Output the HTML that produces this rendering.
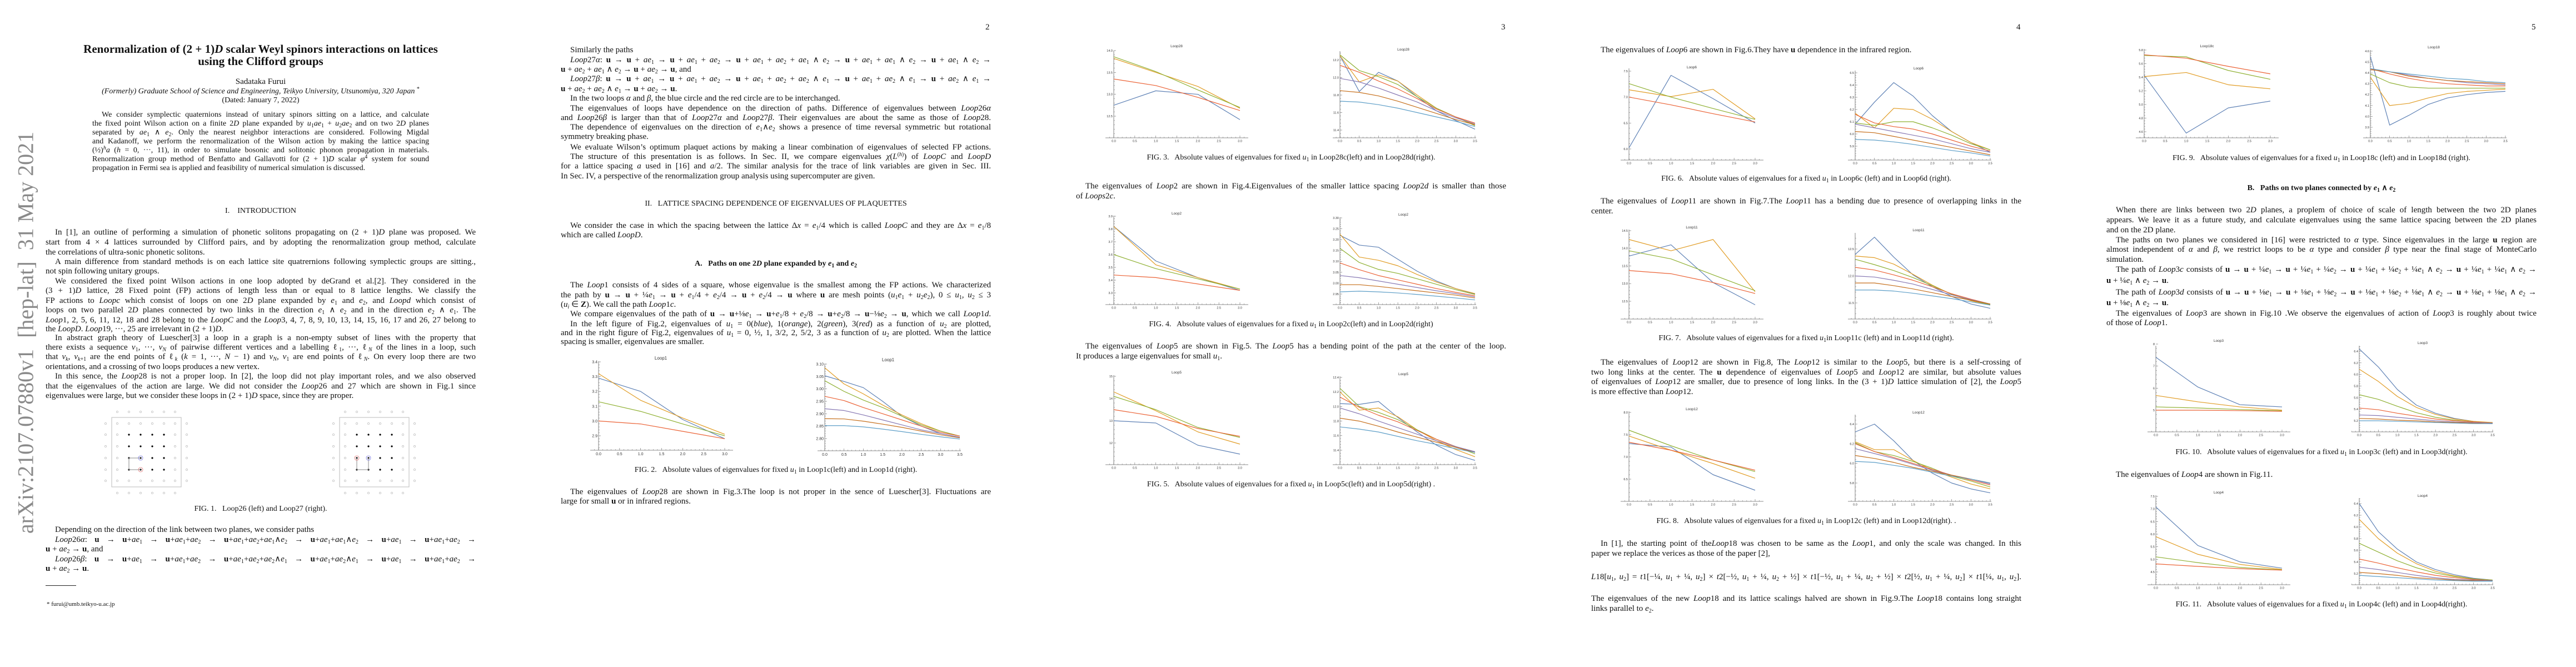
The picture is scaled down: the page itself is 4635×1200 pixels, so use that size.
<!DOCTYPE html>
<html><head><meta charset="utf-8">
<style>
html,body{margin:0;padding:0;background:#fff;}
#root{position:relative;width:4635px;height:1200px;overflow:hidden;background:#fff;font-family:"Liberation Serif",serif;color:#111;}
.ln{position:absolute;width:774px;white-space:nowrap;text-align:justify;text-align-last:justify;font-size:15px;line-height:18px;height:18px;}
.ln.e{text-align-last:left;}
.ln.i{text-indent:17px;}
.cap{position:absolute;width:774px;text-align:center;font-size:14px;line-height:18px;white-space:nowrap;}
.hd{position:absolute;width:774px;text-align:center;font-size:14px;font-weight:bold;line-height:18px;white-space:nowrap;}
.pn{position:absolute;font-size:15px;}
sub{font-size:10px;line-height:0;vertical-align:-3px;}
sup{font-size:10px;line-height:0;vertical-align:5px;}
i{font-style:italic;}
#stamp{position:absolute;left:-319px;top:575px;width:730px;text-align:center;font-size:40px;color:#8a8a8a;transform:rotate(-90deg);white-space:nowrap;}
svg{position:absolute;left:0;top:0;}
</style></head>
<body>
<div id="root">

<div id="stamp">arXiv:2107.07880v1&nbsp; [hep-lat]&nbsp; 31 May 2021</div>

<!-- PAGE 1 -->
<div class="cap" style="left:82px;top:77px;font-size:21px;line-height:22px;font-weight:bold;">Renormalization of (2 + 1)<i>D</i> scalar Weyl spinors interactions on lattices</div>
<div class="cap" style="left:82px;top:99px;font-size:21px;line-height:22px;font-weight:bold;">using the Clifford groups</div>
<div class="cap" style="left:82px;top:138px;font-size:15px;">Sadataka Furui</div>
<div class="cap" style="left:82px;top:156px;font-size:14px;"><i>(Formerly) Graduate School of Science and Engineering, Teikyo University, Utsunomiya, 320 Japan</i> <sup>*</sup></div>
<div class="cap" style="left:82px;top:172px;font-size:14px;">(Dated: January 7, 2022)</div>

<div>
<div class="ln i" style="left:166px;width:606px;top:198px;font-size:14px;">We consider symplectic quaternions instead of unitary spinors sitting on a lattice, and calculate</div>
<div class="ln" style="left:166px;width:606px;top:214px;font-size:14px;">the fixed point Wilson action on a finite 2<i>D</i> plane expanded by <i>u</i><sub>1</sub><i>ae</i><sub>1</sub> + <i>u</i><sub>2</sub><i>ae</i><sub>2</sub> and on two 2<i>D</i> planes</div>
<div class="ln" style="left:166px;width:606px;top:230px;font-size:14px;">separated by <i>ae</i><sub>1</sub> ∧ <i>e</i><sub>2</sub>. Only the nearest neighbor interactions are considered. Following Migdal</div>
<div class="ln" style="left:166px;width:606px;top:246px;font-size:14px;">and Kadanoff, we perform the renormalization of the Wilson action by making the lattice spacing</div>
<div class="ln" style="left:166px;width:606px;top:262px;font-size:14px;">(½)<sup><i>h</i></sup><i>a</i> (<i>h</i> = 0, ···, 11), in order to simulate bosonic and solitonic phonon propagation in materials.</div>
<div class="ln" style="left:166px;width:606px;top:278px;font-size:14px;">Renormalization group method of Benfatto and Gallavotti for (2 + 1)<i>D</i> scalar <i>φ</i><sup>4</sup> system for sound</div>
<div class="ln e" style="left:166px;width:606px;top:294px;font-size:14px;">propagation in Fermi sea is applied and feasibility of numerical simulation is discussed.</div>
</div>

<div class="hd" style="left:82px;top:371px;font-weight:normal;">I.&nbsp;&nbsp;&nbsp; INTRODUCTION</div>

<div>
<div class="ln i" style="left:82px;top:409px;">In [1], an outline of performing a simulation of phonetic solitons propagating on (2 + 1)<i>D</i> plane was proposed. We</div>
<div class="ln" style="left:82px;top:427px;">start from 4 × 4 lattices surrounded by Clifford pairs, and by adopting the renormalization group method, calculate</div>
<div class="ln e" style="left:82px;top:445px;">the correlations of ultra-sonic phonetic solitons.</div>
<div class="ln i" style="left:82px;top:462px;">A main difference from standard methods is on each lattice site quatrernions following symplectic groups are sitting.,</div>
<div class="ln e" style="left:82px;top:479px;">not spin following unitary groups.</div>
<div class="ln i" style="left:82px;top:497px;">We considered the fixed point Wilson actions in one loop adopted by deGrand et al.[2]. They considered in the</div>
<div class="ln" style="left:82px;top:514px;">(3 + 1)<i>D</i> lattice, 28 Fixed point (FP) actions of length less than or equal to 8 lattice lengths. We classify the</div>
<div class="ln" style="left:82px;top:532px;">FP actions to <i>Loopc</i> which consist of loops on one 2<i>D</i> plane expanded by <i>e</i><sub>1</sub> and <i>e</i><sub>2</sub>, and <i>Loopd</i> which consist of</div>
<div class="ln" style="left:82px;top:549px;">loops on two parallel 2<i>D</i> planes connected by two links in the direction <i>e</i><sub>1</sub> ∧ <i>e</i><sub>2</sub> and in the direction <i>e</i><sub>2</sub> ∧ <i>e</i><sub>1</sub>. The</div>
<div class="ln" style="left:82px;top:567px;"><i>Loop</i>1, 2, 5, 6, 11, 12, 18 and 28 belong to the <i>LoopC</i> and the <i>Loop</i>3, 4, 7, 8, 9, 10, 13, 14, 15, 16, 17 and 26, 27 belong to</div>
<div class="ln e" style="left:82px;top:583px;">the <i>LoopD</i>. <i>Loop</i>19, ···, 25 are irrelevant in (2 + 1)<i>D</i>.</div>
<div class="ln i" style="left:82px;top:599px;">In abstract graph theory of Luescher[3] a loop in a graph is a non-empty subset of lines with the property that</div>
<div class="ln" style="left:82px;top:616px;">there exists a sequence <i>v</i><sub>1</sub>, ···, <i>v<sub>N</sub></i> of pairwise different vertices and a labelling ℓ<sub>1</sub>, ···, ℓ<sub><i>N</i></sub> of the lines in a loop, such</div>
<div class="ln" style="left:82px;top:633px;">that <i>v<sub>k</sub></i>, <i>v</i><sub><i>k</i>+1</sub> are the end points of ℓ<sub><i>k</i></sub> (<i>k</i> = 1, ···, <i>N</i> − 1) and <i>v<sub>N</sub></i>, <i>v</i><sub>1</sub> are end points of ℓ<sub><i>N</i></sub>. On every loop there are two</div>
<div class="ln e" style="left:82px;top:651px;">orientations, and a crossing of two loops produces a new vertex.</div>
<div class="ln i" style="left:82px;top:668px;">In this sence, the <i>Loop</i>28 is not a proper loop. In [2], the loop did not play important roles, and we also observed</div>
<div class="ln" style="left:82px;top:686px;">that the eigenvalues of the action are large. We did not consider the <i>Loop</i>26 and 27 which are shown in Fig.1 since</div>
<div class="ln e" style="left:82px;top:703px;">eigenvalues were large, but we consider these loops in (2 + 1)<i>D</i> space, since they are proper.</div>
</div>

<div class="cap" style="left:82px;top:907px;">FIG. 1.&nbsp;&nbsp; Loop26 (left) and Loop27 (right).</div>

<div>
<div class="ln i e" style="left:82px;top:944px;">Depending on the direction of the link between two planes, we consider paths</div>
<div class="ln i" style="left:82px;top:962px;"><i>Loop</i>26<i>α</i>: <b>u</b> → <b>u</b>+<i>ae</i><sub>1</sub> → <b>u</b>+<i>ae</i><sub>1</sub>+<i>ae</i><sub>2</sub> → <b>u</b>+<i>ae</i><sub>1</sub>+<i>ae</i><sub>2</sub>+<i>ae</i><sub>1</sub>∧<i>e</i><sub>2</sub> → <b>u</b>+<i>ae</i><sub>1</sub>+<i>ae</i><sub>1</sub>∧<i>e</i><sub>2</sub> → <b>u</b>+<i>ae</i><sub>1</sub> → <b>u</b>+<i>ae</i><sub>1</sub>+<i>ae</i><sub>2</sub> →</div>
<div class="ln e" style="left:82px;top:979px;"><b>u</b> + <i>ae</i><sub>2</sub> → <b>u</b>, and</div>
<div class="ln i" style="left:82px;top:997px;"><i>Loop</i>26<i>β</i>: <b>u</b> → <b>u</b>+<i>ae</i><sub>1</sub> → <b>u</b>+<i>ae</i><sub>1</sub>+<i>ae</i><sub>2</sub> → <b>u</b>+<i>ae</i><sub>1</sub>+<i>ae</i><sub>2</sub>+<i>ae</i><sub>2</sub>∧<i>e</i><sub>1</sub> → <b>u</b>+<i>ae</i><sub>1</sub>+<i>ae</i><sub>2</sub>∧<i>e</i><sub>1</sub> → <b>u</b>+<i>ae</i><sub>1</sub> → <b>u</b>+<i>ae</i><sub>1</sub>+<i>ae</i><sub>2</sub> →</div>
<div class="ln e" style="left:82px;top:1014px;"><b>u</b> + <i>ae</i><sub>2</sub> → <b>u</b>.</div>
</div>
<div style="position:absolute;left:82px;top:1053px;width:55px;height:1px;background:#222;"></div>
<div style="position:absolute;left:84px;top:1081px;font-size:11px;">* furui@umb.teikyo-u.ac.jp</div>

<!-- PAGE 2 -->
<div class="pn" style="left:1773px;top:41px;">2</div>
<div>
<div class="ln i e" style="left:1009px;top:81px;">Similarly the paths</div>
<div class="ln i" style="left:1009px;top:99px;"><i>Loop</i>27<i>α</i>: <b>u</b> → <b>u</b> + <i>ae</i><sub>1</sub> → <b>u</b> + <i>ae</i><sub>1</sub> + <i>ae</i><sub>2</sub> → <b>u</b> + <i>ae</i><sub>1</sub> + <i>ae</i><sub>2</sub> + <i>ae</i><sub>1</sub> ∧ <i>e</i><sub>2</sub> → <b>u</b> + <i>ae</i><sub>1</sub> + <i>ae</i><sub>1</sub> ∧ <i>e</i><sub>2</sub> → <b>u</b> + <i>ae</i><sub>1</sub> ∧ <i>e</i><sub>2</sub> →</div>
<div class="ln e" style="left:1009px;top:116px;"><b>u</b> + <i>ae</i><sub>2</sub> + <i>ae</i><sub>1</sub> ∧ <i>e</i><sub>2</sub> → <b>u</b> + <i>ae</i><sub>2</sub> → <b>u</b>, and</div>
<div class="ln i" style="left:1009px;top:133px;"><i>Loop</i>27<i>β</i>: <b>u</b> → <b>u</b> + <i>ae</i><sub>1</sub> → <b>u</b> + <i>ae</i><sub>1</sub> + <i>ae</i><sub>2</sub> → <b>u</b> + <i>ae</i><sub>1</sub> + <i>ae</i><sub>2</sub> + <i>ae</i><sub>2</sub> ∧ <i>e</i><sub>1</sub> → <b>u</b> + <i>ae</i><sub>1</sub> + <i>ae</i><sub>2</sub> ∧ <i>e</i><sub>1</sub> → <b>u</b> + <i>ae</i><sub>2</sub> ∧ <i>e</i><sub>1</sub> →</div>
<div class="ln e" style="left:1009px;top:151px;"><b>u</b> + <i>ae</i><sub>2</sub> + <i>ae</i><sub>2</sub> ∧ <i>e</i><sub>1</sub> → <b>u</b> + <i>ae</i><sub>2</sub> → <b>u</b>.</div>
<div class="ln i e" style="left:1009px;top:168px;">In the two loops <i>α</i> and <i>β</i>, the blue circle and the red circle are to be interchanged.</div>
<div class="ln i" style="left:1009px;top:186px;">The eigenvalues of loops have dependence on the direction of paths. Difference of eigenvalues between <i>Loop</i>26<i>α</i></div>
<div class="ln" style="left:1009px;top:203px;">and <i>Loop</i>26<i>β</i> is larger than that of <i>Loop</i>27<i>α</i> and <i>Loop</i>27<i>β</i>. Their eigenvalues are about the same as those of <i>Loop</i>28.</div>
<div class="ln i" style="left:1009px;top:220px;">The dependence of eigenvalues on the direction of <i>e</i><sub>1</sub>∧<i>e</i><sub>2</sub> shows a presence of time reversal symmetric but rotational</div>
<div class="ln e" style="left:1009px;top:237px;">symmetry breaking phase.</div>
<div class="ln i" style="left:1009px;top:256px;">We evaluate Wilson’s optimum plaquet actions by making a linear combination of eigenvalues of selected FP actions.</div>
<div class="ln i" style="left:1009px;top:273px;">The structure of this presentation is as follows. In Sec. II, we compare eigenvalues <i>χ</i>(<i>L</i><sup>(<i>h</i>)</sup>) of <i>LoopC</i> and <i>LoopD</i></div>
<div class="ln" style="left:1009px;top:290px;">for a lattice spacing <i>a</i> used in [16] and <i>a</i>/2. The similar analysis for the trace of link variables are given in Sec. III.</div>
<div class="ln e" style="left:1009px;top:308px;">In Sec. IV, a perspective of the renormalization group analysis using supercomputer are given.</div>
</div>
<div class="hd" style="left:1009px;top:358px;font-weight:normal;">II.&nbsp;&nbsp; LATTICE SPACING DEPENDENCE OF EIGENVALUES OF PLAQUETTES</div>
<div>
<div class="ln i" style="left:1009px;top:397px;">We consider the case in which the spacing between the lattice Δ<i>x</i> = <i>e</i><sub>1</sub>/4 which is called <i>LoopC</i> and they are Δ<i>x</i> = <i>e</i><sub>1</sub>/8</div>
<div class="ln e" style="left:1009px;top:414px;">which are called <i>LoopD</i>.</div>
</div>
<div class="hd" style="left:1009px;top:466px;">A.&nbsp;&nbsp; Paths on one 2<i>D</i> plane expanded by <i>e</i><sub>1</sub> and <i>e</i><sub>2</sub></div>
<div>
<div class="ln i" style="left:1009px;top:504px;">The <i>Loop</i>1 consists of 4 sides of a square, whose eigenvalue is the smallest among the FP actions. We characterized</div>
<div class="ln" style="left:1009px;top:522px;">the path by <b>u</b> → <b>u</b> + ¼<i>e</i><sub>1</sub> → <b>u</b> + <i>e</i><sub>1</sub>/4 + <i>e</i><sub>2</sub>/4 → <b>u</b> + <i>e</i><sub>2</sub>/4 → <b>u</b> where <b>u</b> are mesh points (<i>u</i><sub>1</sub><i>e</i><sub>1</sub> + <i>u</i><sub>2</sub><i>e</i><sub>2</sub>), 0 ≤ <i>u</i><sub>1</sub>, <i>u</i><sub>2</sub> ≤ 3</div>
<div class="ln e" style="left:1009px;top:539px;">(<i>u<sub>i</sub></i> ∈ <b>Z</b>). We call the path <i>Loop</i>1<i>c</i>.</div>
<div class="ln i" style="left:1009px;top:556px;">We compare eigenvalues of the path of <b>u</b> → <b>u</b>+⅛<i>e</i><sub>1</sub> → <b>u</b>+<i>e</i><sub>1</sub>/8 + <i>e</i><sub>2</sub>/8 → <b>u</b>+<i>e</i><sub>2</sub>/8 → <b>u</b>−⅛<i>e</i><sub>2</sub> → <b>u</b>, which we call <i>Loop</i>1<i>d</i>.</div>
<div class="ln i" style="left:1009px;top:574px;">In the left figure of Fig.2, eigenvalues of <i>u</i><sub>1</sub> = 0(<i>blue</i>), 1(<i>orange</i>), 2(<i>green</i>), 3(<i>red</i>) as a function of <i>u</i><sub>2</sub> are plotted,</div>
<div class="ln" style="left:1009px;top:590px;">and in the right figure of Fig.2, eigenvalues of <i>u</i><sub>1</sub> = 0, ½, 1, 3/2, 2, 5/2, 3 as a function of <i>u</i><sub>2</sub> are plotted. When the lattice</div>
<div class="ln e" style="left:1009px;top:606px;">spacing is smaller, eigenvalues are smaller.</div>
</div>
<div class="cap" style="left:1009px;top:837px;">FIG. 2.&nbsp;&nbsp; Absolute values of eigenvalues for fixed <i>u</i><sub>1</sub> in Loop1c(left) and in Loop1d (right).</div>
<div>
<div class="ln i" style="left:1009px;top:876px;">The eigenvalues of <i>Loop</i>28 are shown in Fig.3.The loop is not proper in the sence of Luescher[3]. Fluctuations are</div>
<div class="ln e" style="left:1009px;top:893px;">large for small <b>u</b> or in infrared regions.</div>
</div>

<!-- PAGE 3 -->
<div class="pn" style="left:2701px;top:41px;">3</div>
<div class="cap" style="left:1936px;top:275px;">FIG. 3.&nbsp;&nbsp; Absolute values of eigenvalues for fixed <i>u</i><sub>1</sub> in Loop28c(left) and in Loop28d(right).</div>
<div>
<div class="ln i" style="left:1936px;top:326px;">The eigenvalues of <i>Loop</i>2 are shown in Fig.4.Eigenvalues of the smaller lattice spacing <i>Loop</i>2<i>d</i> is smaller than those</div>
<div class="ln e" style="left:1936px;top:344px;">of <i>Loops</i>2<i>c</i>.</div>
</div>
<div class="cap" style="left:1936px;top:575px;">FIG. 4.&nbsp;&nbsp; Absolute values of eigenvalues for a fixed <i>u</i><sub>1</sub> in Loop2c(left) and in Loop2d(right)</div>
<div>
<div class="ln i" style="left:1936px;top:614px;">The eigenvalues of <i>Loop</i>5 are shown in Fig.5. The <i>Loop</i>5 has a bending point of the path at the center of the loop.</div>
<div class="ln e" style="left:1936px;top:632px;">It produces a large eigenvalues for small <i>u</i><sub>1</sub>.</div>
</div>
<div class="cap" style="left:1936px;top:863px;">FIG. 5.&nbsp;&nbsp; Absolute values of eigenvalues for a fixed <i>u</i><sub>1</sub> in Loop5c(left) and in Loop5d(right) .</div>

<!-- PAGE 4 -->
<div class="pn" style="left:3628px;top:41px;">4</div>
<div class="ln i e" style="left:2863px;top:81px;">The eigenvalues of <i>Loop</i>6 are shown in Fig.6.They have <b>u</b> dependence in the infrared region.</div>
<div class="cap" style="left:2863px;top:313px;">FIG. 6.&nbsp;&nbsp; Absolute values of eigenvalues for a fixed <i>u</i><sub>1</sub> in Loop6c (left) and in Loop6d (right).</div>
<div>
<div class="ln i" style="left:2863px;top:353px;">The eigenvalues of <i>Loop</i>11 are shown in Fig.7.The <i>Loop</i>11 has a bending due to presence of overlapping links in the</div>
<div class="ln e" style="left:2863px;top:371px;">center.</div>
</div>
<div class="cap" style="left:2863px;top:600px;">FIG. 7.&nbsp;&nbsp; Absolute values of eigenvalues for a fixed <i>u</i><sub>1</sub>in Loop11c (left) and in Loop11d (right).</div>
<div>
<div class="ln i" style="left:2863px;top:643px;">The eigenvalues of <i>Loop</i>12 are shown in Fig.8, The <i>Loop</i>12 is similar to the <i>Loop</i>5, but there is a self-crossing of</div>
<div class="ln" style="left:2863px;top:661px;">two long links at the center. The <b>u</b> dependence of eigenvalues of <i>Loop</i>5 and <i>Loop</i>12 are similar, but absolute values</div>
<div class="ln" style="left:2863px;top:678px;">of eigenvalues of <i>Loop</i>12 are smaller, due to presence of long links. In the (3 + 1)<i>D</i> lattice simulation of [2], the <i>Loop</i>5</div>
<div class="ln e" style="left:2863px;top:696px;">is more effective than <i>Loop</i>12.</div>
</div>
<div class="cap" style="left:2863px;top:929px;">FIG. 8.&nbsp;&nbsp; Absolute values of eigenvalues for a fixed <i>u</i><sub>1</sub> in Loop12c (left) and in Loop12d(right). .</div>
<div>
<div class="ln i" style="left:2863px;top:969px;">In [1], the starting point of the<i>Loop</i>18 was chosen to be same as the <i>Loop</i>1, and only the scale was changed. In this</div>
<div class="ln e" style="left:2863px;top:987px;">paper we replace the verices as those of the paper [2],</div>
<div class="ln" style="left:2863px;top:1029px;"><i>L</i>18[<i>u</i><sub>1</sub>, <i>u</i><sub>2</sub>] = <i>t</i>1[−¼, <i>u</i><sub>1</sub> + ¼, <i>u</i><sub>2</sub>] × <i>t</i>2[−½, <i>u</i><sub>1</sub> + ¼, <i>u</i><sub>2</sub> + ½] × <i>t</i>1[−½, <i>u</i><sub>1</sub> + ¼, <i>u</i><sub>2</sub> + ½] × <i>t</i>2[½, <i>u</i><sub>1</sub> + ¼, <i>u</i><sub>2</sub>] × <i>t</i>1[¼, <i>u</i><sub>1</sub>, <i>u</i><sub>2</sub>].</div>
<div class="ln" style="left:2863px;top:1068px;">The eigenvalues of the new <i>Loop</i>18 and its lattice scalings halved are shown in Fig.9.The <i>Loop</i>18 contains long straight</div>
<div class="ln e" style="left:2863px;top:1086px;">links parallel to <i>e</i><sub>2</sub>.</div>
</div>

<!-- PAGE 5 -->
<div class="pn" style="left:4555px;top:41px;">5</div>
<div class="cap" style="left:3790px;top:276px;">FIG. 9.&nbsp;&nbsp; Absolute values of eigenvalues for a fixed <i>u</i><sub>1</sub> in Loop18c (left) and in Loop18d (right).</div>
<div class="hd" style="left:3790px;top:330px;">B.&nbsp;&nbsp; Paths on two planes connected by <i>e</i><sub>1</sub> ∧ <i>e</i><sub>2</sub></div>
<div>
<div class="ln i" style="left:3790px;top:369px;">When there are links between two 2<i>D</i> planes, a proplem of choice of scale of length between the two 2D planes</div>
<div class="ln" style="left:3790px;top:387px;">appears. We leave it as a future study, and calculate eigenvalues using the same lattice spacing between the 2D planes</div>
<div class="ln e" style="left:3790px;top:405px;">and on the 2D plane.</div>
<div class="ln i" style="left:3790px;top:423px;">The paths on two planes we considered in [16] were restricted to <i>α</i> type. Since eigenvalues in the large <b>u</b> region are</div>
<div class="ln" style="left:3790px;top:440px;">almost independent of <i>α</i> and <i>β</i>, we restrict loops to be <i>α</i> type and consider <i>β</i> type near the final stage of MonteCarlo</div>
<div class="ln e" style="left:3790px;top:458px;">simulation.</div>
<div class="ln i" style="left:3790px;top:476px;">The path of <i>Loop</i>3<i>c</i> consists of <b>u</b> → <b>u</b> + ¼<i>e</i><sub>1</sub> → <b>u</b> + ¼<i>e</i><sub>1</sub> + ¼<i>e</i><sub>2</sub> → <b>u</b> + ¼<i>e</i><sub>1</sub> + ¼<i>e</i><sub>2</sub> + ¼<i>e</i><sub>1</sub> ∧ <i>e</i><sub>2</sub> → <b>u</b> + ¼<i>e</i><sub>1</sub> + ¼<i>e</i><sub>1</sub> ∧ <i>e</i><sub>2</sub> →</div>
<div class="ln e" style="left:3790px;top:496px;"><b>u</b> + ¼<i>e</i><sub>1</sub> ∧ <i>e</i><sub>2</sub> → <b>u</b>.</div>
<div class="ln i" style="left:3790px;top:517px;">The path of <i>Loop</i>3<i>d</i> consists of <b>u</b> → <b>u</b> + ⅛<i>e</i><sub>1</sub> → <b>u</b> + ⅛<i>e</i><sub>1</sub> + ⅛<i>e</i><sub>2</sub> → <b>u</b> + ⅛<i>e</i><sub>1</sub> + ⅛<i>e</i><sub>2</sub> + ⅛<i>e</i><sub>1</sub> ∧ <i>e</i><sub>2</sub> → <b>u</b> + ⅛<i>e</i><sub>1</sub> + ⅛<i>e</i><sub>1</sub> ∧ <i>e</i><sub>2</sub> →</div>
<div class="ln e" style="left:3790px;top:536px;"><b>u</b> + ⅛<i>e</i><sub>1</sub> ∧ <i>e</i><sub>2</sub> → <b>u</b>.</div>
<div class="ln i" style="left:3790px;top:555px;">The eigenvalues of <i>Loop</i>3 are shown in Fig.10 .We observe the eigenvalues of action of <i>Loop</i>3 is roughly about twice</div>
<div class="ln e" style="left:3790px;top:572px;">of those of <i>Loop</i>1.</div>
</div>
<div class="cap" style="left:3790px;top:805px;">FIG. 10.&nbsp;&nbsp; Absolute values of eigenvalues for a fixed <i>u</i><sub>1</sub> in Loop3c (left) and in Loop3d(right).</div>
<div class="ln i e" style="left:3790px;top:845px;">The eigenvalues of <i>Loop</i>4 are shown in Fig.11.</div>
<div class="cap" style="left:3790px;top:1079px;">FIG. 11.&nbsp;&nbsp; Absolute values of eigenvalues for a fixed <i>u</i><sub>1</sub> in Loop4c (left) and in Loop4d(right).</div>

<svg id="plots" width="4635" height="1200" viewBox="0 0 4635 1200"></svg>
</div>

<script>
// ---------- shared x data ----------
const xC = [0, 1, 2, 3];
const xD = [0, 0.5, 1, 1.5, 2, 2.5, 3, 3.5];
const xTicksC = ["0.0","0.5","1.0","1.5","2.0","2.5","3.0"];
const xTicksD = ["0.0","0.5","1.0","1.5","2.0","2.5","3.0","3.5"];

// ---------- Fig 2 : Loop1 ----------
const f2cTicks = ["2.9","3.0","3.1","3.2","3.3","3.4"];
const f2cVals = [
  [3.29, 3.20, 3.01, 2.88],
  [3.32, 3.14, 3.02, 2.91],
  [3.13, 3.065, 2.98, 2.90],
  [3.00, 2.98, 2.93, 2.88]];
const f2dTicks = ["2.80","2.85","2.90","2.95","3.00","3.05","3.10"];
const f2dVals = [
  [3.053, 3.03, 3.005, 2.95, 2.89, 2.85, 2.82, 2.805],
  [3.085, 3.02, 2.98, 2.935, 2.895, 2.86, 2.83, 2.81],
  [3.033, 2.99, 2.955, 2.925, 2.89, 2.855, 2.83, 2.81],
  [2.97, 2.953, 2.925, 2.90, 2.875, 2.85, 2.825, 2.81],
  [2.92, 2.913, 2.895, 2.875, 2.855, 2.835, 2.82, 2.805],
  [2.88, 2.879, 2.87, 2.858, 2.845, 2.83, 2.815, 2.803],
  [2.852, 2.852, 2.847, 2.838, 2.828, 2.817, 2.807, 2.798]];

// ---------- Fig 3 : Loop28 ----------
const f3cTicks = ["12.5","13.0","13.5","14.0"];
const f3cVals = [
  [12.75, 13.08, 13.0, 12.42],
  [13.82, 13.5, 13.18, 12.68],
  [13.86, 13.52, 13.1, 12.7],
  [13.35, 13.2, 12.93, 12.63]];
const f3dTicks = ["11.4","11.6","11.8","12.0","12.2"];
const f3dVals = [
  [12.25, 11.84, 12.06, 11.96, 11.78, 11.62, 11.51, 11.41],
  [12.25, 11.95, 12.03, 11.96, 11.80, 11.65, 11.55, 11.46],
  [12.26, 12.08, 12.01, 11.92, 11.78, 11.65, 11.55, 11.45],
  [12.14, 12.06, 11.96, 11.87, 11.76, 11.64, 11.55, 11.48],
  [11.99, 11.95, 11.88, 11.80, 11.72, 11.62, 11.54, 11.47],
  [11.85, 11.83, 11.79, 11.73, 11.66, 11.59, 11.52, 11.46],
  [11.73, 11.72, 11.69, 11.65, 11.60, 11.55, 11.50, 11.44]];

// ---------- Fig 4 : Loop2 ----------
const f4cTicks = ["3.3","3.4","3.5","3.6","3.7","3.8","3.9"];
const f4cVals = [
  [3.82, 3.55, 3.42, 3.32],
  [3.82, 3.52, 3.42, 3.33],
  [3.60, 3.49, 3.41, 3.33],
  [3.44, 3.42, 3.37, 3.32]];
const f4dTicks = ["2.95","3.00","3.05","3.10","3.15","3.20","3.25","3.30"];
const f4dVals = [
  [3.22, 3.175, 3.165, 3.11, 3.055, 3.01, 2.975, 2.95],
  [3.225, 3.12, 3.105, 3.08, 3.04, 3.005, 2.975, 2.952],
  [3.16, 3.095, 3.063, 3.045, 3.02, 2.995, 2.97, 2.948],
  [3.093, 3.062, 3.035, 3.015, 2.995, 2.975, 2.958, 2.942],
  [3.035, 3.025, 3.01, 2.995, 2.98, 2.965, 2.952, 2.937],
  [2.993, 2.993, 2.985, 2.975, 2.965, 2.955, 2.945, 2.932],
  [2.96, 2.963, 2.96, 2.955, 2.948, 2.94, 2.932, 2.923]];

// ---------- Fig 5 : Loop5 ----------
const f5cTicks = ["12","13","14","15"];
const f5cVals = [
  [13.0, 12.9, 11.9, 11.5],
  [14.3, 13.45, 12.5, 11.95],
  [14.1, 13.5, 12.7, 12.25],
  [13.5, 13.2, 12.65, 12.3]];
const f5dTicks = ["11.4","11.6","11.8","12.0","12.2","12.4"];
const f5dVals = [
  [12.04, 12.03, 12.07, 11.85, 11.65, 11.47, 11.34, 11.26],
  [12.20, 11.95, 11.98, 11.86, 11.68, 11.53, 11.41, 11.31],
  [12.25, 12.00, 11.92, 11.82, 11.68, 11.55, 11.45, 11.35],
  [12.13, 11.99, 11.88, 11.79, 11.67, 11.55, 11.45, 11.37],
  [11.98, 11.90, 11.80, 11.71, 11.62, 11.53, 11.45, 11.38],
  [11.84, 11.80, 11.73, 11.65, 11.58, 11.51, 11.44, 11.37],
  [11.72, 11.69, 11.65, 11.59, 11.53, 11.48, 11.42, 11.37]];

// ---------- Fig 6 : Loop6 ----------
const f6cTicks = ["6.0","6.5","7.0","7.5"];
const f6cVals = [
  [6.02, 7.42, 6.97, 6.50],
  [7.14, 7.01, 7.15, 6.58],
  [7.26, 7.00, 6.78, 6.57],
  [7.00, 6.85, 6.68, 6.52]];
const f6dTicks = ["5.9","6.0","6.1","6.2","6.3","6.4","6.5"];
const f6dVals = [
  [6.08, 6.26, 6.42, 6.31, 6.15, 6.02, 5.93, 5.85],
  [6.17, 6.05, 6.21, 6.20, 6.12, 6.02, 5.93, 5.87],
  [6.09, 6.07, 6.10, 6.10, 6.05, 5.99, 5.92, 5.87],
  [6.16, 6.09, 6.06, 6.04, 6.00, 5.95, 5.90, 5.86],
  [6.08, 6.05, 6.02, 5.99, 5.96, 5.92, 5.88, 5.85],
  [6.02, 6.01, 5.98, 5.95, 5.92, 5.89, 5.86, 5.83],
  [5.955, 5.95, 5.935, 5.915, 5.89, 5.865, 5.845, 5.82]];

// ---------- Fig 7 : Loop11 ----------
const f7cTicks = ["12.5","13.0","13.5","14.0","14.5"];
const f7cVals = [
  [13.78, 14.10, 13.03, 12.40],
  [14.25, 13.93, 14.25, 12.77],
  [13.93, 13.70, 13.25, 12.80],
  [13.37, 13.28, 13.03, 12.72]];
const f7dTicks = ["11.5","12.0","12.5"];
const f7dVals = [
  [12.40, 12.72, 12.35, 12.02, 11.80, 11.62, 11.48, 11.40],
  [12.37, 12.34, 12.22, 12.03, 11.83, 11.66, 11.54, 11.46],
  [12.31, 12.21, 12.10, 11.97, 11.82, 11.66, 11.55, 11.47],
  [12.16, 12.11, 12.02, 11.92, 11.80, 11.67, 11.57, 11.48],
  [12.00, 11.98, 11.92, 11.85, 11.75, 11.65, 11.56, 11.48],
  [11.87, 11.87, 11.82, 11.76, 11.69, 11.62, 11.55, 11.48],
  [11.74, 11.74, 11.72, 11.68, 11.63, 11.58, 11.52, 11.46]];

// ---------- Fig 8 : Loop12 ----------
const f8cTicks = ["6.5","7.0","7.5","8.0"];
const f8cVals = [
  [7.30, 7.22, 6.60, 6.25],
  [7.47, 7.15, 6.85, 6.52],
  [7.60, 7.25, 6.93, 6.67],
  [7.33, 7.15, 6.93, 6.70]];
const f8dTicks = ["5.8","6.0","6.2","6.4"];
const f8dVals = [
  [6.32, 6.40, 6.23, 6.03, 5.90, 5.80, 5.74, 5.70],
  [6.22, 6.14, 6.14, 6.03, 5.93, 5.86, 5.79, 5.74],
  [6.21, 6.12, 6.08, 6.02, 5.95, 5.87, 5.82, 5.76],
  [6.20, 6.12, 6.06, 6.00, 5.94, 5.88, 5.83, 5.78],
  [6.15, 6.10, 6.05, 5.99, 5.93, 5.88, 5.84, 5.79],
  [6.08, 6.05, 6.01, 5.96, 5.92, 5.88, 5.84, 5.80],
  [6.02, 6.01, 5.98, 5.95, 5.91, 5.87, 5.84, 5.80]];

// ---------- Fig 9 : Loop18 ----------
const f9cTicks = ["4.6","4.8","5.0","5.2","5.4","5.6","5.8"];
const f9cVals = [
  [5.43, 4.58, 4.95, 5.05],
  [5.41, 5.47, 5.29, 5.23],
  [5.72, 5.70, 5.50, 5.37],
  [5.73, 5.68, 5.56, 5.45]];
const f9dTicks = ["3.9","4.0","4.1","4.2","4.3","4.4","4.5","4.6"];
const f9dVals = [
  [4.55, 3.92, 4.01, 4.11, 4.17, 4.20, 4.22, 4.23],
  [4.36, 4.10, 4.12, 4.17, 4.21, 4.23, 4.24, 4.25],
  [4.39, 4.31, 4.27, 4.26, 4.26, 4.26, 4.26, 4.26],
  [4.44, 4.39, 4.35, 4.32, 4.30, 4.29, 4.28, 4.28],
  [4.43, 4.41, 4.38, 4.35, 4.33, 4.31, 4.30, 4.29],
  [4.43, 4.41, 4.37, 4.35, 4.33, 4.32, 4.31, 4.30],
  [4.44, 4.41, 4.39, 4.37, 4.35, 4.34, 4.32, 4.31]];

// ---------- Fig 10 : Loop3 ----------
const f10cTicks = ["5","6","7","8"];
const f10cVals = [
  [7.40, 6.05, 5.25, 5.15],
  [5.67, 5.38, 5.15, 5.00],
  [5.15, 5.10, 5.03, 4.97],
  [5.00, 5.00, 4.98, 4.95]];
const f10dTicks = ["5.2","5.4","5.6","5.8","6.0","6.2","6.4"];
const f10dVals = [
  [6.44, 6.13, 5.74, 5.47, 5.33, 5.24, 5.19, 5.16],
  [6.09, 5.88, 5.62, 5.43, 5.31, 5.23, 5.19, 5.17],
  [5.65, 5.57, 5.45, 5.34, 5.26, 5.21, 5.18, 5.16],
  [5.42, 5.39, 5.33, 5.28, 5.23, 5.20, 5.18, 5.16],
  [5.30, 5.29, 5.26, 5.23, 5.20, 5.18, 5.17, 5.16],
  [5.24, 5.23, 5.21, 5.20, 5.18, 5.17, 5.16, 5.15],
  [5.20, 5.20, 5.19, 5.18, 5.17, 5.16, 5.15, 5.15]];

// ---------- Fig 11 : Loop4 ----------
const f11cTicks = ["4.5","5.0","5.5","6.0","6.5","7.0","7.5"];
const f11cVals = [
  [7.08, 5.55, 4.90, 4.65],
  [5.90, 5.20, 4.80, 4.60],
  [5.10, 4.87, 4.68, 4.58],
  [4.82, 4.72, 4.63, 4.57]];
const f11dTicks = ["5.2","5.4","5.6","5.8","6.0","6.2","6.4"];
const f11dVals = [
  [6.40, 5.92, 5.62, 5.40, 5.27, 5.18, 5.12, 5.09],
  [6.13, 5.80, 5.55, 5.37, 5.24, 5.16, 5.11, 5.09],
  [5.72, 5.57, 5.42, 5.30, 5.21, 5.15, 5.11, 5.09],
  [5.45, 5.38, 5.30, 5.23, 5.17, 5.13, 5.10, 5.08],
  [5.31, 5.27, 5.22, 5.17, 5.13, 5.10, 5.09, 5.08],
  [5.22, 5.20, 5.17, 5.13, 5.11, 5.09, 5.08, 5.07],
  [5.17, 5.15, 5.13, 5.11, 5.09, 5.08, 5.07, 5.07]];

const COLORS = ["#5E81B5","#E19C24","#8FB032","#EB6235","#8778B3","#C56E1A","#5D9EC7"];
const NS = "http://www.w3.org/2000/svg";
const svg = document.getElementById("plots");

function mk(tag, parent) {
  const e = document.createElementNS(NS, tag);
  parent.appendChild(e);
  return e;
}
function line(parent, x1, y1, x2, y2, stroke, w) {
  const l = mk("line", parent);
  l.setAttribute("x1", x1); l.setAttribute("y1", y1);
  l.setAttribute("x2", x2); l.setAttribute("y2", y2);
  l.setAttribute("stroke", stroke); l.setAttribute("stroke-width", w);
  return l;
}
function txt(parent, x, y, s, size, anchor) {
  const t = mk("text", parent);
  t.setAttribute("x", x); t.setAttribute("y", y);
  t.setAttribute("font-size", size);
  t.setAttribute("font-family", "Liberation Sans, sans-serif");
  t.setAttribute("text-anchor", anchor);
  t.setAttribute("fill", "#333");
  t.textContent = s;
  return t;
}

// layout presets (pixel geometry only)
const LC = {x0:150, x1:377, axL:135, axR:392};
const LD = {x0:557, x1:800, axL:544, axR:802};
const LC2 = {x0:171, x1:398, axL:156, axR:413};
const LD2 = {x0:537, x1:777, axL:523, axR:778};

function drawChart(name, off, geo, top, bot, tFirstPx, tLastPx, title, tx, ty, xs, xt, yt, vals, fs) {
  const g = mk("g", svg);
  
  
  const yv = yt.map(Number);
  const v0 = yv[0], v1 = yv[yv.length - 1];
  const Y = v => tFirstPx + (v - v0) * (tLastPx - tFirstPx) / (v1 - v0);
  const xmax = Number(xt[xt.length - 1]);
  const X = u => off + geo.x0 + u * (geo.x1 - geo.x0) / xmax;
  const ax = X(0);
  const axisC = "#666";
  // axes
  const ya = line(g, ax, top, ax, bot, axisC, 0.8);
  
  
  const xa = line(g, off + geo.axL, bot, off + geo.axR, bot, axisC, 0.8);
  
  
  // x minor ticks
  for (let k = -5; k < 60; k++) {
    const px = X(k * 0.1);
    if (px < off + geo.axL) continue;
    if (px > off + geo.axR) break;
    if (k % 5 !== 0) line(g, px, bot, px, bot - 2, axisC, 0.5);
  }
  // x major ticks + labels
  xt.forEach(s => {
    const px = X(Number(s));
    line(g, px, bot, px, bot - 4, axisC, 0.6);
    const t = txt(g, px, bot + fs + 2, s, fs, "middle");
    
    
  });
  // y minor ticks
  const step = (yv[1] - yv[0]) / 5;
  for (let k = -30; k < 80; k++) {
    const v = yv[0] + k * step;
    const py = Y(v);
    if (py > bot || py < top) continue;
    if (k % 5 !== 0) line(g, ax, py, ax + 2, py, axisC, 0.5);
  }
  // y major ticks + labels
  yt.forEach(s => {
    const py = Y(Number(s));
    line(g, ax, py, ax + 4, py, axisC, 0.6);
    const t = txt(g, ax - 2, py + fs * 0.35, s, fs, "end");
    
    
  });
  // series
  vals.forEach((ser, i) => {
    const p = mk("polyline", g);
    p.setAttribute("points", ser.map((v, j) => X(xs[j]).toFixed(2) + "," + Y(v).toFixed(2)).join(" "));
    p.setAttribute("fill", "none");
    p.setAttribute("stroke", COLORS[i % COLORS.length]);
    p.setAttribute("stroke-width", 1.2);
    p.setAttribute("stroke-linejoin", "round");
    
    
  });
  const tt = txt(g, off + tx, ty, title, fs + 1, "middle");
  
  
}

const P2 = 927, P3 = 1854, P4 = 2781, P5 = 3708;
drawChart('fig2-loop1c-chart', P2, LC, 650, 810, 784, 651, "Loop1", 262, 647, xC, xTicksC, f2cTicks, f2cVals, 7);
drawChart('fig2-loop1d-chart', P2, LD, 654, 811, 789, 655, "Loop1", 671, 650, xD, xTicksD, f2dTicks, f2dVals, 7);
drawChart('fig3-loop28c-chart', P3, LC, 91, 248, 209, 91, "Loop28", 263, 85, xC, xTicksC, f3cTicks, f3cVals, 5.5);
drawChart('fig3-loop28d-chart', P3, LD, 92, 248, 234, 108, "Loop28", 671, 91, xD, xTicksD, f3dTicks, f3dVals, 5.5);
drawChart('fig4-loop2c-chart', P3, LC, 388, 548, 527, 389, "Loop2", 263, 386, xC, xTicksC, f4cTicks, f4cVals, 5.5);
drawChart('fig4-loop2d-chart', P3, LD, 391, 548, 529, 392, "Loop2", 671, 388, xD, xTicksD, f4dTicks, f4dVals, 5.5);
drawChart('fig5-loop5c-chart', P3, LC, 675, 836, 797, 677, "Loop5", 263, 672, xC, xTicksC, f5cTicks, f5cVals, 5.5);
drawChart('fig5-loop5d-chart', P3, LD, 677, 836, 810, 679, "Loop5", 671, 675, xD, xTicksD, f5dTicks, f5dVals, 5.5);
drawChart('fig6-loop6c-chart', P4, LC, 123, 288, 268, 128, "Loop6", 263, 123, xC, xTicksC, f6cTicks, f6cVals, 5.5);
drawChart('fig6-loop6d-chart', P4, LD, 127, 288, 263, 131, "Loop6", 671, 125, xD, xTicksD, f6dTicks, f6dVals, 5.5);
drawChart('fig7-loop11c-chart', P4, LC, 413, 574, 542, 415, "Loop11", 263, 411, xC, xTicksC, f7cTicks, f7cVals, 5.5);
drawChart('fig7-loop11d-chart', P4, LD, 419, 574, 545, 448, "Loop11", 671, 416, xD, xTicksD, f7dTicks, f7dVals, 5.5);
drawChart('fig8-loop12c-chart', P4, LC, 740, 902, 862, 742, "Loop12", 263, 738, xC, xTicksC, f8cTicks, f8cVals, 5.5);
drawChart('fig8-loop12d-chart', P4, LD, 746, 902, 869, 763, "Loop12", 671, 744, xD, xTicksD, f8dTicks, f8dVals, 5.5);
drawChart('fig9-loop18c-chart', P5, LC, 88, 248, 237, 90, "Loop18c", 263, 85, xC, xTicksC, f9cTicks, f9cVals, 5.5);
drawChart('fig9-loop18d-chart', P5, LD, 90, 248, 229, 92, "Loop18", 671, 87, xD, xTicksD, f9dTicks, f9dVals, 5.5);
drawChart('fig10-loop3c-chart', P5, LC2, 622, 777, 738, 619, "Loop3", 284, 615, xC, xTicksC, f10cTicks, f10cVals, 5.5);
drawChart('fig10-loop3d-chart', P5, LD2, 622, 777, 757, 632, "Loop3", 651, 619, xD, xTicksD, f10dTicks, f10dVals, 5.5);
drawChart('fig11-loop4c-chart', P5, LC2, 891, 1052, 1029, 893, "Loop4", 284, 888, xC, xTicksC, f11cTicks, f11cVals, 5.5);
drawChart('fig11-loop4d-chart', P5, LD2, 896, 1052, 1032, 906, "Loop4", 651, 894, xD, xTicksD, f11dTicks, f11dVals, 5.5);

// ---------- Fig 1 : lattice diagrams ----------
function drawLattice(name, dx, loopType) {
  const g = mk("g", svg);
  
  
  const cols = [190, 211, 232, 253, 274, 295, 315, 336].map(c => c + dx);
  const rows = [741, 762, 782, 803, 824, 845, 865, 887];
  const box = mk("rect", g);
  box.setAttribute("x", 201 + dx); box.setAttribute("y", 751);
  box.setAttribute("width", 125); box.setAttribute("height", 125);
  box.setAttribute("fill", "none"); box.setAttribute("stroke", "#bbb"); box.setAttribute("stroke-width", 1);
  rows.forEach((ry, ri) => {
    cols.forEach((cx, ci) => {
      const edge = (ri === 0 || ri === 7);
      if (edge && (ci === 0 || ci === 7)) return;
      const filled = ri >= 2 && ri <= 5 && ci >= 2 && ci <= 5;
      const c = mk("circle", g);
      c.setAttribute("cx", cx); c.setAttribute("cy", ry);
      if (filled) { c.setAttribute("r", 1.6); c.setAttribute("fill", "#000"); }
      else { c.setAttribute("r", 1.6); c.setAttribute("fill", "none"); c.setAttribute("stroke", "#aaa"); c.setAttribute("stroke-width", 0.6); }
    });
  });
  const lc = "#888";
  if (loopType === 26) {
    line(g, cols[2], rows[4], cols[3], rows[4], lc, 1);
    line(g, cols[2], rows[4], cols[2], rows[5], lc, 1);
    line(g, cols[2], rows[5], cols[3], rows[5], lc, 1);
    const b = mk("circle", g); b.setAttribute("cx", cols[3]); b.setAttribute("cy", rows[4]); b.setAttribute("r", 4); b.setAttribute("fill", "none"); b.setAttribute("stroke", "#7a7ae0"); b.setAttribute("stroke-width", 0.8);
    const r = mk("circle", g); r.setAttribute("cx", cols[3]); r.setAttribute("cy", rows[5]); r.setAttribute("r", 4); r.setAttribute("fill", "none"); r.setAttribute("stroke", "#e07a7a"); r.setAttribute("stroke-width", 0.8);
  } else {
    line(g, cols[2], rows[4], cols[2], rows[5], lc, 1);
    line(g, cols[2], rows[5], cols[3], rows[5], lc, 1);
    line(g, cols[3], rows[5], cols[3], rows[4], lc, 1);
    const r = mk("circle", g); r.setAttribute("cx", cols[2]); r.setAttribute("cy", rows[4]); r.setAttribute("r", 4); r.setAttribute("fill", "none"); r.setAttribute("stroke", "#e07a7a"); r.setAttribute("stroke-width", 0.8);
    const b = mk("circle", g); b.setAttribute("cx", cols[3]); b.setAttribute("cy", rows[4]); b.setAttribute("r", 4); b.setAttribute("fill", "none"); b.setAttribute("stroke", "#7a7ae0"); b.setAttribute("stroke-width", 0.8);
  }
}
drawLattice('fig1-loop26-diagram', 0, 26);
drawLattice('fig1-loop27-diagram', 410, 27);
</script>
</body></html>
